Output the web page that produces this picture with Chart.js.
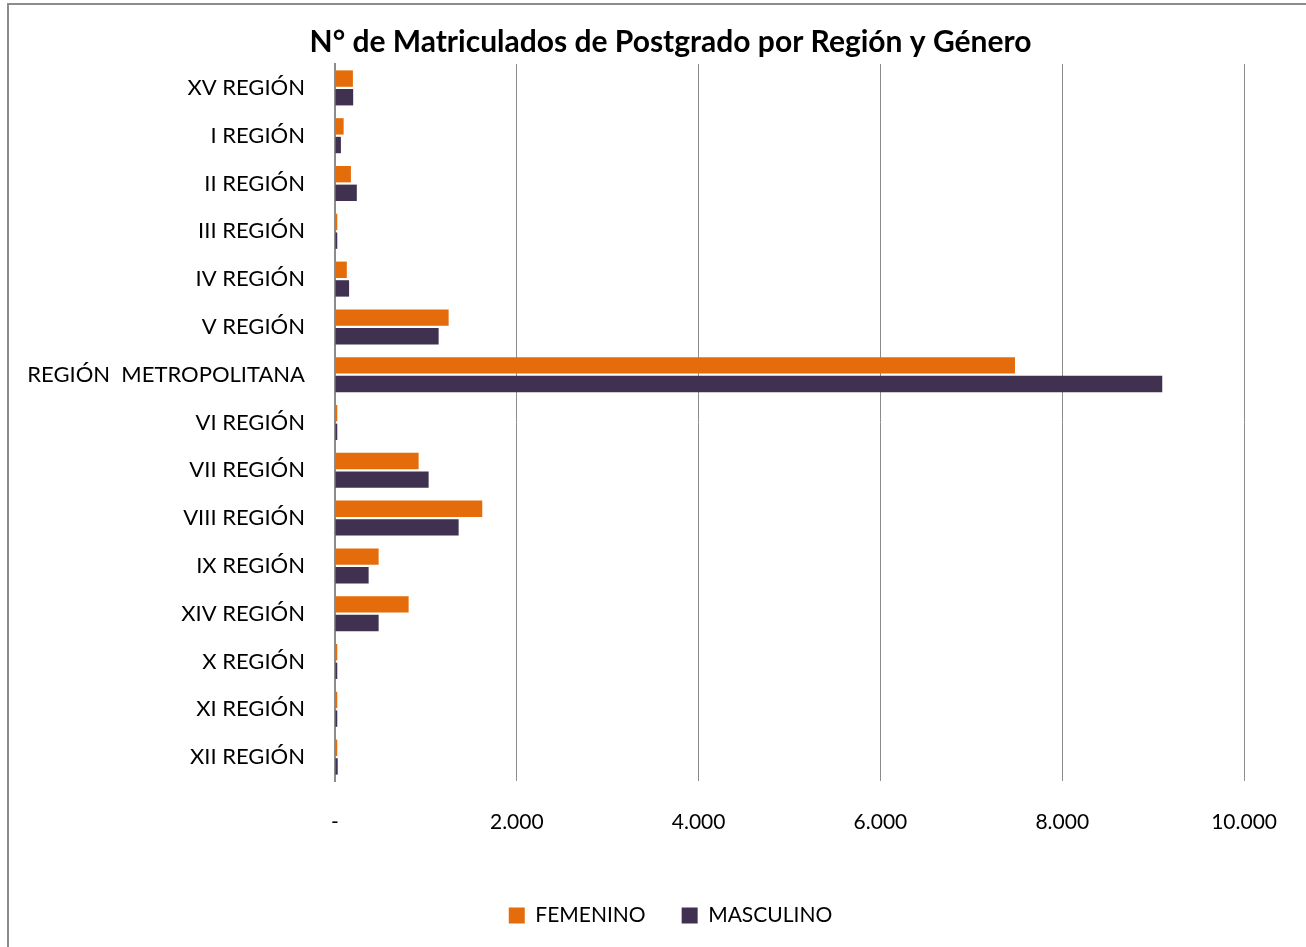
<!DOCTYPE html>
<html>
<head>
<meta charset="utf-8">
<script src="https://cdn.jsdelivr.net/npm/chart.js@4"></script>
<style>
  body { margin: 0; background: #fff; }
  #wrap { position: relative; width: 1306px; height: 947px; overflow: hidden; }
  #frame { position: absolute; left: 7px; top: 3px; width: 1320px; height: 960px; border: 2px solid #8c8c8c; pointer-events: none; }
  canvas { position: absolute; left: 0; top: 0; }
</style>
</head>
<body>
<div id="wrap">
  <canvas id="grafico" width="1306" height="947"></canvas>
  <div id="frame"></div>
</div>
<script>
const regiones = [
  "XV REGIÓN", "I REGIÓN", "II REGIÓN", "III REGIÓN", "IV REGIÓN", "V REGIÓN",
  "REGIÓN  METROPOLITANA", "VI REGIÓN", "VII REGIÓN", "VIII REGIÓN", "IX REGIÓN",
  "XIV REGIÓN", "X REGIÓN", "XI REGIÓN", "XII REGIÓN"
];
const femenino = [197, 95, 175, 25, 130, 1250, 7480, 25, 920, 1620, 480, 810, 25, 25, 25];
const masculino = [200, 65, 240, 25, 155, 1140, 9100, 25, 1030, 1360, 370, 480, 25, 25, 30];
const ticksX = [0, 2000, 4000, 6000, 8000, 10000];

const fuente = "Lato, 'Open Sans', sans-serif";

// formato miles con punto, cero como guion
function formatoMiles(v) {
  if (v === 0) return "-";
  return String(v).replace(/\B(?=(\d{3})+(?!\d))/g, ".");
}

// centra título y leyenda como en Excel (desplazados a la derecha)
const desplazar = {
  id: "desplazar",
  afterLayout(chart) {
    [chart.titleBlock, chart.legend].forEach(b => {
      if (b) { b.left += 86; }
    });
  }
};

new Chart(document.getElementById("grafico"), {
  type: "bar",
  data: {
    labels: regiones,
    datasets: [
      { label: "FEMENINO", data: femenino, backgroundColor: "#E46C0A", borderWidth: 0 },
      { label: "MASCULINO", data: masculino, backgroundColor: "#403151", borderWidth: 0 }
    ]
  },
  plugins: [desplazar],
  options: {
    indexAxis: "y",
    responsive: false,
    animation: false,
    categoryPercentage: 0.78,
    barPercentage: 0.88,
    layout: { padding: { left: 0, right: 51, top: 24, bottom: 11 } },
    plugins: {
      title: {
        display: true,
        text: "N° de Matriculados de Postgrado por Región y Género",
        color: "#000",
        font: { family: fuente, size: 30, weight: "bold" },
        padding: { top: 0, bottom: 4 }
      },
      legend: {
        position: "bottom",
        labels: {
          color: "#000",
          font: { family: fuente, size: 21 },
          boxWidth: 16, boxHeight: 16, padding: 36
        }
      },
      tooltip: { enabled: false }
    },
    scales: {
      x: {
        min: 0, max: 10000,
        afterBuildTicks: s => { s.ticks = ticksX.map(v => ({ value: v })); },
        ticks: { callback: v => formatoMiles(v), color: "#000", font: { family: fuente, size: 21 }, padding: 29 },
        grid: { color: "#8c8c8c", lineWidth: 1, drawTicks: false },
        border: { display: false },
        afterFit: s => { s.height = 88; }
      },
      y: {
        ticks: { color: "#000", font: { family: fuente, size: 22 }, padding: 22 },
        grid: { display: false },
        border: { color: "#8c8c8c", width: 2 },
        afterFit: s => { s.width = 335; }
      }
    }
  }
});
</script>
</body>
</html>
